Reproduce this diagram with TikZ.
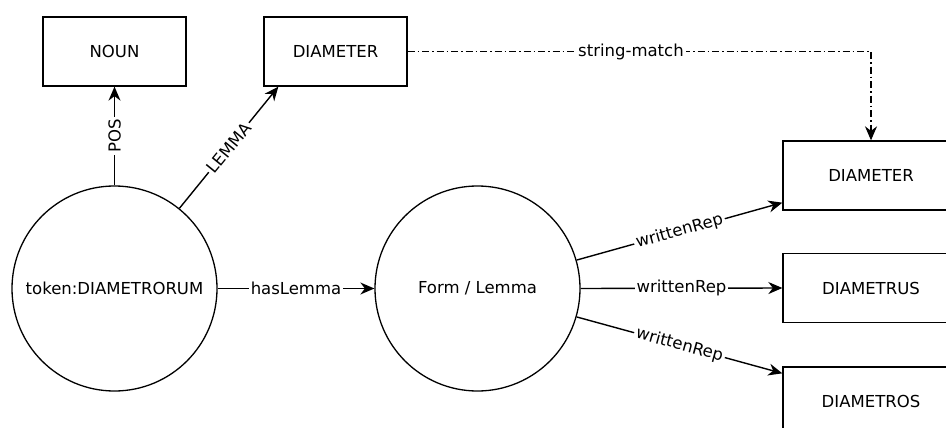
\documentclass[tikz,border=0pt]{standalone}
\usepackage{fontspec}
\setmainfont{DejaVu Sans}
\usetikzlibrary{arrows.meta,calc}
\begin{document}
\begin{tikzpicture}[x=1pt,y=-1pt,
  every node/.style={font=\fontsize{16.5}{20}\selectfont},
  box/.style={draw,line width=1.3pt,minimum width=143pt,minimum height=69pt,inner sep=0pt},
  rbox/.style={box,minimum width=176pt},
  circ/.style={draw,circle,line width=1.3pt,minimum size=205pt,inner sep=0pt},
  edge/.style={line width=1.4pt,-{Stealth[length=14pt,width=12pt,inset=4.5pt]}},
  lbl/.style={fill=white,inner sep=2pt}
]
\useasboundingbox (0,0) rectangle (946,428);
\clip (0,0) rectangle (946,428);
\fill[white] (0,0) rectangle (946,428);

\node[box] (noun) at (114.5,51.5) {NOUN};
\node[box] (dtop) at (335.5,51.5) {DIAMETER};
\node[circ] (tok) at (114.5,288.5) {token:DIAMETRORUM};
\node[circ] (form) at (477.5,288.5) {Form / Lemma};
\node[rbox] (d1) at (871,175.5) {DIAMETER};
\node[rbox] (d2) at (871,288) {DIAMETRUS};
\node[rbox] (d3) at (871,401.5) {DIAMETROS};

\draw[edge] (tok.north) -- node[lbl,rotate=90] {POS} (noun.south);
\coordinate (lemEnd) at ([xshift=15pt]dtop.south west);
\draw[edge] (tok.51) -- node[lbl,sloped] {LEMMA} (lemEnd);
\draw[edge,dash pattern=on 7pt off 3pt on 1.5pt off 3pt]
  (dtop.east) -| node[lbl,pos=0.241] {string-match} (d1.north);
\draw[edge] (tok.east) -- node[lbl] {hasLemma} (form.west);
\draw[edge] (form.16.5) -- node[lbl,sloped] {writtenRep} ([yshift=8pt]d1.south west);
\draw[edge] (form.east) -- node[lbl] {writtenRep} (d2.west);
\draw[edge] (form.-16) -- node[lbl,sloped] {writtenRep} ([yshift=-7pt]d3.north west);
\end{tikzpicture}
\end{document}
